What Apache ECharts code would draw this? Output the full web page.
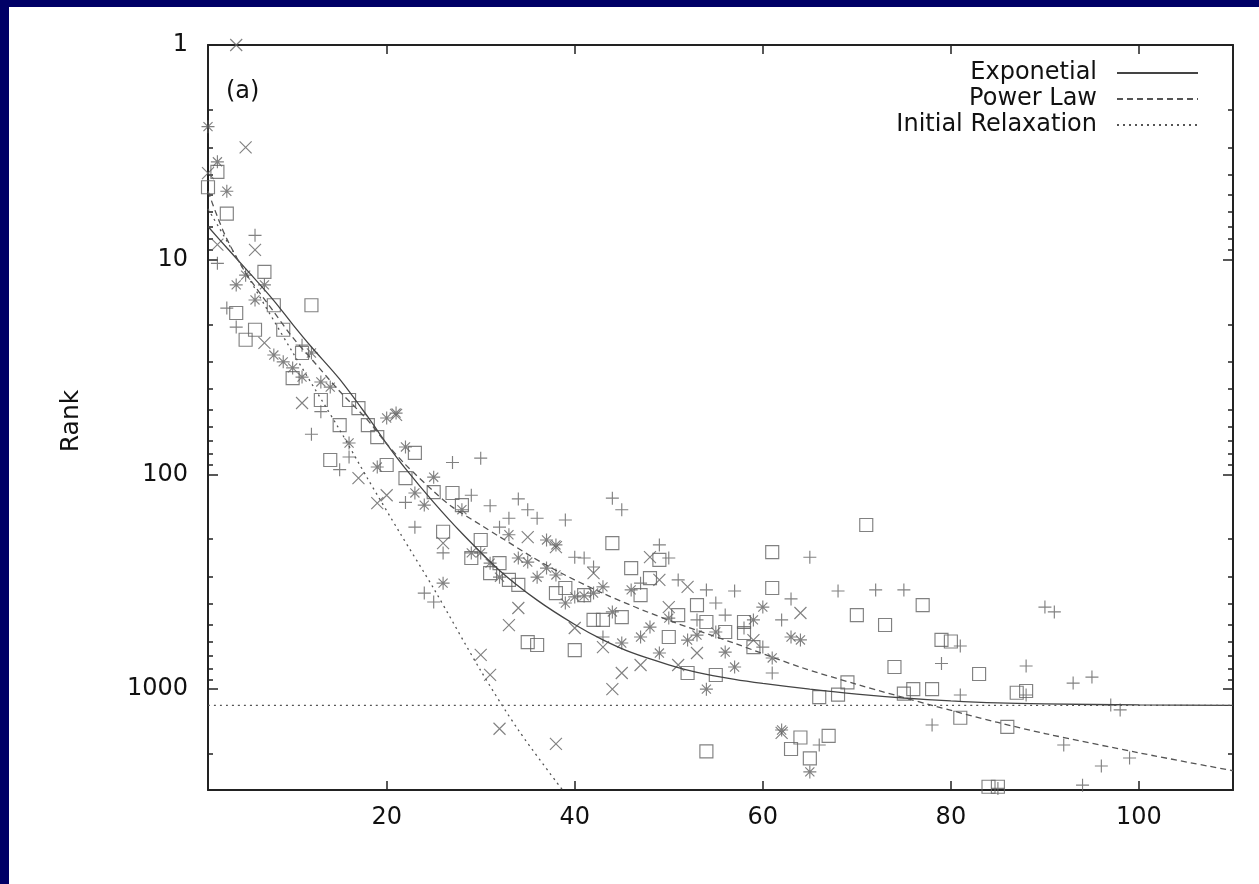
<!DOCTYPE html>
<html><head><meta charset="utf-8">
<script src="https://cdn.jsdelivr.net/npm/echarts@6/dist/echarts.min.js"></script>
<style>html,body{margin:0;padding:0;background:#fff}#c{width:1259px;height:884px}</style>
</head><body><div id="c"></div>
<script>
const xTicks = [20, 40, 60, 80, 100];
const yTicks = [1, 10, 100, 1000];
const yMinorTicks = [2,3,4,5,6,7,8,9,20,30,40,50,60,70,80,90,200,300,400,500,600,700,800,900,2000];
const legendNames = ['Exponetial', 'Power Law', 'Initial Relaxation'];

const plusPts = [[2,10.4],[3,16.8],[4,20.6],[6,7.7],[11,25],[12,65],[13,51],[15,95],[16,83],[22,135],[23,176],[24,357],[25,393],[26,232],[27,88],[29,125],[30,84],[31,140],[32,176],[33,160],[34,130],[35,146],[36,160],[39,163],[40,243],[41,245],[42,270],[43,572],[44,129],[45,146],[47,321],[49,213],[50,245],[51,310],[53,476],[54,345],[55,397],[56,452],[57,349],[58,519],[60,637],[61,841],[62,476],[63,380],[65,243],[66,1820],[68,349],[72,345],[75,345],[78,1470],[79,760],[81,630],[81,1065],[88,780],[88,1065],[90,415],[91,437],[92,1820],[93,937],[94,2800],[95,879],[96,2280],[97,1186],[98,1250],[99,2094],[85,2900]];
const crossPts = [[1,3.95],[2,8.5],[4,1.0],[5,3.0],[6,9.0],[7,24.4],[11,46.5],[17,104],[19,136],[20,125],[21,52.8],[26,209],[30,693],[31,859],[32,1530],[33,503],[34,419],[35,196],[38,218],[38,1800],[40,519],[42,288],[43,637],[44,1000],[45,841],[47,772],[48,243],[49,310],[50,415],[51,772],[52,334],[53,679],[59,591],[62,1600],[64,442]];
const squarePts = [[1,4.6],[2,3.9],[3,6.1],[4,17.7],[5,23.6],[6,21.2],[7,11.4],[8,16.3],[9,21.2],[10,35.6],[11,27.2],[12,16.3],[13,45],[14,85.7],[15,58.9],[16,45],[17,49.1],[18,58.9],[19,67],[20,90.4],[22,104],[23,79.4],[25,121],[26,185],[27,122],[28,139],[29,245],[30,202],[31,288],[32,259],[33,310],[34,327],[35,604],[36,623],[38,357],[39,338],[40,658],[41,365],[42,476],[43,476],[44,209],[45,462],[46,273],[47,365],[48,304],[49,250],[50,572],[51,452],[52,841],[53,406],[54,487],[54,1950],[55,859],[56,542],[58,487],[58,548],[59,637],[61,230],[61,338],[63,1900],[64,1680],[65,2100],[66,1090],[67,1650],[68,1060],[69,930],[70,452],[71,172],[73,503],[74,789],[75,1050],[76,1000],[77,406],[78,1000],[79,590],[80,600],[81,1360],[83,850],[84,2850],[85,2850],[86,1500],[87,1040],[88,1020]];
const starPts = [[1,2.4],[2,3.5],[3,4.8],[4,13.1],[5,11.8],[6,15.4],[7,13.1],[8,27.8],[9,29.9],[10,31.9],[11,35.2],[12,27.2],[13,37.1],[14,39.2],[16,71.4],[19,92.4],[20,54.6],[21,51.8],[22,74.5],[23,122],[24,139],[25,103],[26,321],[28,146],[29,232],[30,232],[31,259],[32,301],[33,191],[34,245],[35,256],[36,301],[37,202],[37,273],[38,213],[38,294],[39,397],[40,372],[41,368],[42,357],[43,334],[44,437],[45,610],[46,345],[47,572],[48,514],[49,679],[50,467],[52,591],[53,560],[54,1000],[55,542],[56,672],[57,789],[59,476],[60,415],[61,716],[62,1550],[63,572],[64,590],[65,2430]];

const expFit = [[1,7],[3,8.8],[5,11],[8,15.5],[10,20],[12,25.5],[15,36],[18,54],[20,72],[22,94],[25,135],[28,188],[32,280],[36,385],[40,500],[43,590],[46,675],[50,770],[53,835],[57,900],[60,940],[65,1000],[70,1055],[75,1100],[80,1135],[85,1160],[90,1172],[100,1185],[110,1190]];
const powerFit = [[1,4.8],[2,6.3],[3,8],[5,11.5],[8,17.5],[10,23],[12,29],[15,41],[18,56],[20,72],[22,90],[25,120],[27,142],[30,172],[32,195],[37,265],[43,358],[50,478],[57,612],[64,790],[70,950],[78,1190],[85,1430],[90,1610],[100,1980],[110,2400]];
const relaxFit = [[1,5.8],[5,11.5],[10,27],[15,62],[18,105],[21.4,187],[25,340],[30,820],[34,1550],[38.7,2950]];
const plateau = [[1,1190],[110,1190]];

const markColor = '#626262';
const font = 'DejaVu Sans';
const symPlus = 'path://M5,0L5,10M0,5L10,5';
const symCross = 'path://M0,0L10,10M0,10L10,0';
const symStar = 'path://M5,0L5,10M0,5L10,5M1.5,1.5L8.5,8.5M1.5,8.5L8.5,1.5';
const symSquare = 'path://M0,0L10,0L10,10L0,10Z';
function scat(name, data, sym, size) {
  return {type:'scatter', name, data, symbol: sym, symbolSize: size, symbolKeepAspect: true,
    xAxisIndex:0, yAxisIndex:0, silent:true, z:3,
    itemStyle:{color:'transparent', borderColor: markColor, borderWidth:1.15}};
}
function ln(name, data, type, color, w) {
  return {type:'line', name, data, showSymbol:false, symbol:'none', smooth:0.3, xAxisIndex:0, yAxisIndex:0, z:4,
    lineStyle:{color, width:w, type}, itemStyle:{color}};
}
const axisLineStyle = {color:'#222', width:2};
const tickStyle = {color:'#222', width:1.5};
function yAx(pos, ticks, len, showLine, showLabel) {
  return {type:'log', logBase:10, inverse:true, min:1, max:2950, position:pos, splitLine:{show:false},
    axisLine:{show:showLine, lineStyle:axisLineStyle},
    axisTick:{inside:true, length:len, customValues:ticks, lineStyle:tickStyle},
    axisLabel:showLabel ? {customValues:ticks, fontSize:24, fontFamily:font, color:'#111', margin:20,
      formatter: v => String(Math.round(v))} : {show:false}};
}
const chart = echarts.init(document.getElementById('c'), null, {renderer:'canvas'});
chart.setOption({
  backgroundColor:'#fff',
  animation:false,
  grid:{left:208, right:26, top:45, bottom:94, containLabel:false},
  xAxis:[
    {type:'value', min:1, max:110, position:'bottom', splitLine:{show:false},
     axisLine:{lineStyle:axisLineStyle}, axisTick:{inside:true, length:9, customValues:xTicks, lineStyle:tickStyle},
     axisLabel:{customValues:xTicks, fontSize:24, fontFamily:font, color:'#111', margin:16}},
    {type:'value', min:1, max:110, position:'top', splitLine:{show:false},
     axisLine:{lineStyle:axisLineStyle}, axisTick:{inside:true, length:9, customValues:xTicks, lineStyle:tickStyle},
     axisLabel:{show:false}}
  ],
  yAxis:[
    yAx('left', yTicks, 10, true, true),
    yAx('left', yMinorTicks, 5, false, false),
    yAx('right', yTicks, 10, true, false),
    yAx('right', yMinorTicks, 5, false, false)
  ],
  legend:{data:legendNames, orient:'vertical', right:55, top:56, align:'right', itemWidth:81, itemHeight:10, itemGap:2,
    selectedMode:false,
    itemStyle:{color:'transparent', borderColor:'transparent', borderWidth:0, opacity:0},
    textStyle:{fontSize:24, fontFamily:font, color:'#111', lineHeight:24, padding:[0,15,0,0]}},
  graphic:[
    {type:'rect', shape:{x:0, y:0, width:9, height:884}, style:{fill:'#000066'}},
    {type:'rect', shape:{x:0, y:0, width:1259, height:7}, style:{fill:'#000066'}},
    {type:'text', x:71, y:421, rotation:Math.PI/2, style:{text:'Rank', font:'25px "DejaVu Sans"', fill:'#111', align:'center', verticalAlign:'middle'}},
    {type:'text', x:226, y:92, style:{text:'(a)', font:'24px "DejaVu Sans"', fill:'#111', align:'left', verticalAlign:'middle'}}
  ],
  series:[
    scat('plus', plusPts, symPlus, 13),
    scat('cross', crossPts, symCross, 12),
    scat('square', squarePts, symSquare, 13),
    scat('star', starPts, symStar, 13),
    ln('Exponetial', expFit, 'solid', '#444', 1.3),
    ln('Power Law', powerFit, [6,4], '#555', 1.3),
    ln('Initial Relaxation', relaxFit, [2,4], '#555', 1.3),
    ln('plateau', plateau, [2,4], '#555', 1.3)
  ]
});
</script></body></html>
